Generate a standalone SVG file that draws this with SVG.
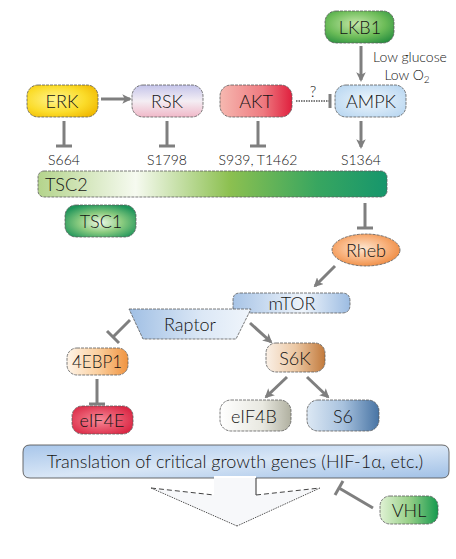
<svg xmlns="http://www.w3.org/2000/svg" width="456" height="559" viewBox="0 0 456 559">
<defs>
<style>
.node{stroke:#5a5a5a;stroke-width:0.8;stroke-dasharray:3 1}
.t{font-family:Lato,"Open Sans",sans-serif;font-weight:300;font-size:18px;fill:#141414;text-anchor:middle;dominant-baseline:central}
.s{font-family:Lato,"Open Sans",sans-serif;font-weight:300;font-size:14px;fill:#141414;text-anchor:middle}
.c{stroke:#7f7f7f;stroke-width:3;fill:none}
.bar{stroke:#7f7f7f;stroke-width:3;fill:none}
</style>
<marker id="ah" viewBox="0 0 10 10" refX="8" refY="5" markerWidth="3.2" markerHeight="3.2" orient="auto" markerUnits="strokeWidth">
<path d="M0,0 L10,5 L0,10 L2.5,5 z" fill="#7f7f7f"/>
</marker>
<radialGradient id="gERK" cx="0.4" cy="0.45" r="0.7"><stop offset="0" stop-color="#fff48c"/><stop offset="0.6" stop-color="#fbdc2a"/><stop offset="1" stop-color="#f0b800"/></radialGradient>
<linearGradient id="gRSK" x1="0" y1="0" x2="0" y2="1"><stop offset="0" stop-color="#c4c4ea"/><stop offset="0.5" stop-color="#f4eef4"/><stop offset="1" stop-color="#f0b8c8"/></linearGradient>
<linearGradient id="gAKT" x1="0" y1="0" x2="1" y2="0"><stop offset="0" stop-color="#f6b8b0"/><stop offset="0.6" stop-color="#ee7a80"/><stop offset="1" stop-color="#e0203e"/></linearGradient>
<radialGradient id="gAMPK" cx="0.5" cy="0.5" r="0.7"><stop offset="0" stop-color="#eef6fc"/><stop offset="1" stop-color="#b4d4f0"/></radialGradient>
<radialGradient id="gLKB1" cx="0.45" cy="0.4" r="0.7"><stop offset="0" stop-color="#c4e6a8"/><stop offset="0.6" stop-color="#6cbc58"/><stop offset="1" stop-color="#2a9040"/></radialGradient>
<linearGradient id="gTSC2" x1="0" y1="0" x2="1" y2="0"><stop offset="0" stop-color="#b4d48c"/><stop offset="0.28" stop-color="#f6faf0"/><stop offset="0.55" stop-color="#8cc050"/><stop offset="0.8" stop-color="#38a660"/><stop offset="1" stop-color="#16966c"/></linearGradient>
<radialGradient id="gTSC1" cx="0.5" cy="0.55" r="0.6"><stop offset="0" stop-color="#eef8e6"/><stop offset="0.5" stop-color="#8ccc80"/><stop offset="1" stop-color="#1e945a"/></radialGradient>
<radialGradient id="gRheb" cx="0.45" cy="0.45" r="0.6"><stop offset="0" stop-color="#fde6d0"/><stop offset="0.6" stop-color="#f8b07a"/><stop offset="1" stop-color="#ee8a40"/></radialGradient>
<linearGradient id="gmTOR" x1="0" y1="0" x2="1" y2="0"><stop offset="0" stop-color="#a8c4e6"/><stop offset="0.6" stop-color="#eef4fb"/><stop offset="1" stop-color="#9cbce2"/></linearGradient>
<linearGradient id="gRaptor" x1="0" y1="0" x2="1" y2="0"><stop offset="0" stop-color="#a0bfe4"/><stop offset="0.6" stop-color="#dce8f6"/><stop offset="1" stop-color="#f0f5fb"/></linearGradient>
<linearGradient id="g4EBP1" x1="0" y1="0" x2="1" y2="0"><stop offset="0" stop-color="#fef4e8"/><stop offset="0.5" stop-color="#fbd0a0"/><stop offset="1" stop-color="#f09440"/></linearGradient>
<radialGradient id="geIF4E" cx="0.45" cy="0.5" r="0.65"><stop offset="0" stop-color="#f88a98"/><stop offset="1" stop-color="#d8203e"/></radialGradient>
<linearGradient id="gS6K" x1="0" y1="0" x2="1" y2="0"><stop offset="0" stop-color="#faf0e6"/><stop offset="0.5" stop-color="#ecc8a4"/><stop offset="1" stop-color="#c27a3c"/></linearGradient>
<linearGradient id="geIF4B" x1="0" y1="0" x2="1" y2="0"><stop offset="0" stop-color="#ffffff"/><stop offset="0.6" stop-color="#e8e8e0"/><stop offset="1" stop-color="#b0b0a0"/></linearGradient>
<linearGradient id="gS6" x1="0" y1="0" x2="1" y2="0"><stop offset="0" stop-color="#dce8f4"/><stop offset="0.5" stop-color="#a8c2de"/><stop offset="1" stop-color="#4874a4"/></linearGradient>
<linearGradient id="gTrans" x1="0" y1="0" x2="1" y2="1"><stop offset="0" stop-color="#a8c6ea"/><stop offset="0.5" stop-color="#d8e6f6"/><stop offset="1" stop-color="#a0c0e6"/></linearGradient>
<linearGradient id="gVHL" x1="0" y1="0" x2="1" y2="0"><stop offset="0" stop-color="#e0f2d4"/><stop offset="0.5" stop-color="#98d088"/><stop offset="1" stop-color="#169a4e"/></linearGradient>
</defs>
<rect width="456" height="559" fill="#ffffff"/>

<g id="connectors">
<line class="c" x1="361" y1="46" x2="361" y2="80" marker-end="url(#ah)"/>
<line class="c" x1="101" y1="99" x2="130" y2="99" marker-end="url(#ah)"/>
<line x1="296" y1="101" x2="329" y2="101" stroke="#7f7f7f" stroke-width="2" stroke-dasharray="1.5 1"/>
<line class="bar" x1="330" y1="94" x2="330" y2="108"/>
<line class="c" x1="64" y1="121" x2="64" y2="146"/><line class="bar" x1="56" y1="146" x2="72" y2="146"/>
<line class="c" x1="167" y1="121" x2="167" y2="146"/><line class="bar" x1="159" y1="146" x2="175" y2="146"/>
<line class="c" x1="258" y1="121" x2="258" y2="146"/><line class="bar" x1="250" y1="146" x2="266" y2="146"/>
<line class="c" x1="361" y1="121" x2="361" y2="147" marker-end="url(#ah)"/>
<line class="c" x1="365" y1="203" x2="365" y2="228"/><line class="bar" x1="357" y1="228" x2="373" y2="228"/>
<line class="c" x1="335" y1="266" x2="315" y2="286" marker-end="url(#ah)"/>
<line class="c" x1="130" y1="320" x2="113" y2="337"/><line class="bar" x1="107" y1="331" x2="119" y2="343"/>
<line class="c" x1="97" y1="379" x2="97" y2="404"/><line class="bar" x1="89" y1="404" x2="105" y2="404"/>
<line class="c" x1="250" y1="323" x2="271" y2="342" marker-end="url(#ah)"/>
<line class="c" x1="287" y1="377" x2="266" y2="397" marker-end="url(#ah)"/>
<line class="c" x1="307" y1="377" x2="328" y2="397" marker-end="url(#ah)"/>
<line class="c" x1="373" y1="508" x2="339" y2="488"/><line class="bar" x1="343" y1="481" x2="335" y2="495"/>
</g>

<g id="LKB1"><rect class="node" x="325" y="11" width="69" height="32" rx="11" fill="url(#gLKB1)"/><text class="t" x="360" y="27">LKB1</text></g>
<g id="lowlabel"><text class="s" x="410" y="62">Low glucose</text><text class="s" x="407" y="80">Low O<tspan font-size="10" dy="3">2</tspan></text></g>

<g id="ERK"><rect class="node" x="27" y="85" width="71" height="32" rx="11" fill="url(#gERK)"/><text class="t" x="62" y="101">ERK</text></g>
<g id="RSK"><rect class="node" x="132" y="85" width="71" height="32" rx="11" fill="url(#gRSK)"/><text class="t" x="167" y="101">RSK</text></g>
<g id="AKT"><rect class="node" x="220" y="85" width="72" height="32" rx="11" fill="url(#gAKT)"/><text class="t" x="256" y="101">AKT</text></g>
<text class="s" x="313" y="97" style="font-size:15px">?</text>
<g id="AMPK"><rect class="node" x="335" y="85" width="71" height="32" rx="11" fill="url(#gAMPK)"/><text class="t" x="371" y="101">AMPK</text></g>

<g id="sites">
<text class="s" x="64" y="165">S664</text>
<text class="s" x="167" y="165">S1798</text>
<text class="s" x="258" y="165">S939, T1462</text>
<text class="s" x="361" y="165">S1364</text>
</g>

<g id="TSC2"><rect class="node" x="38" y="171" width="349" height="26" rx="6" fill="url(#gTSC2)"/><text class="t" x="45" y="184" style="text-anchor:start">TSC2</text></g>
<g id="TSC1"><rect class="node" x="65" y="205" width="71" height="32" rx="11" fill="url(#gTSC1)"/><text class="t" x="101" y="221">TSC1</text></g>
<g id="Rheb"><ellipse class="node" cx="366" cy="250" rx="34" ry="16" fill="url(#gRheb)"/><text class="t" x="366" y="250">Rheb</text></g>

<g id="mTOR"><path class="node" d="M240,293 H342 Q350,293 350,301 V305 Q350,313 342,313 H233 V300 Q233,293 240,293 z" fill="url(#gmTOR)"/><text class="t" x="292" y="303">mTOR</text></g>
<g id="Raptor"><path class="node" d="M129,309 L251,309 L236,339 L143,339 z" fill="url(#gRaptor)"/><text class="t" x="190" y="324">Raptor</text></g>

<g id="4EBP1"><rect class="node" x="67" y="348" width="61" height="27" rx="10" fill="url(#g4EBP1)"/><text class="t" x="97" y="361.5" style="font-size:17px">4EBP1</text></g>
<g id="eIF4E"><rect class="node" x="72" y="406" width="61" height="28" rx="10" fill="url(#geIF4E)"/><text class="t" x="102" y="420">eIF4E</text></g>
<g id="S6K"><rect class="node" x="266" y="343" width="59" height="29" rx="10" fill="url(#gS6K)"/><text class="t" x="295" y="357.5">S6K</text></g>
<g id="eIF4B"><rect class="node" x="220" y="400" width="71" height="31" rx="11" fill="url(#geIF4B)"/><text class="t" x="254" y="415.5">eIF4B</text></g>
<g id="S6"><rect class="node" x="307" y="400" width="72" height="31" rx="11" fill="url(#gS6)"/><text class="t" x="343" y="415.5">S6</text></g>

<g id="Translation">
<path d="M214,478 H30 Q23,478 23,471 V452 Q23,445 30,445 H442 Q449,445 449,452 V471 Q449,478 442,478 H256" fill="url(#gTrans)" stroke="#5a5a5a" stroke-width="0.9"/>
<rect x="214" y="476" width="42" height="4" fill="#ffffff"/>
<text class="t" x="235" y="461" style="font-size:18px">Translation of critical growth genes (HIF-1α, etc.)</text>
</g>
<g id="funnel">
<path d="M151,488 L214,495 L214,478 L256,478 L256,495 L320,488 L237,526 z" fill="#f7f8fa"/>
<line x1="151" y1="488" x2="214" y2="495" stroke="#444" stroke-width="1" stroke-dasharray="5 3"/>
<line x1="256" y1="478" x2="256" y2="495" stroke="#333" stroke-width="1"/>
<line x1="256" y1="495" x2="320" y2="488" stroke="#444" stroke-width="1" stroke-dasharray="5 3"/>
<line x1="151" y1="488" x2="237" y2="526" stroke="#555" stroke-width="1" stroke-dasharray="1.5 1"/>
<line x1="320" y1="488" x2="237" y2="526" stroke="#555" stroke-width="1" stroke-dasharray="1.5 1"/>
</g>
<g id="VHL"><rect class="node" x="380" y="496" width="58" height="28" rx="10" fill="url(#gVHL)"/><text class="t" x="409" y="510">VHL</text></g>
</svg>
